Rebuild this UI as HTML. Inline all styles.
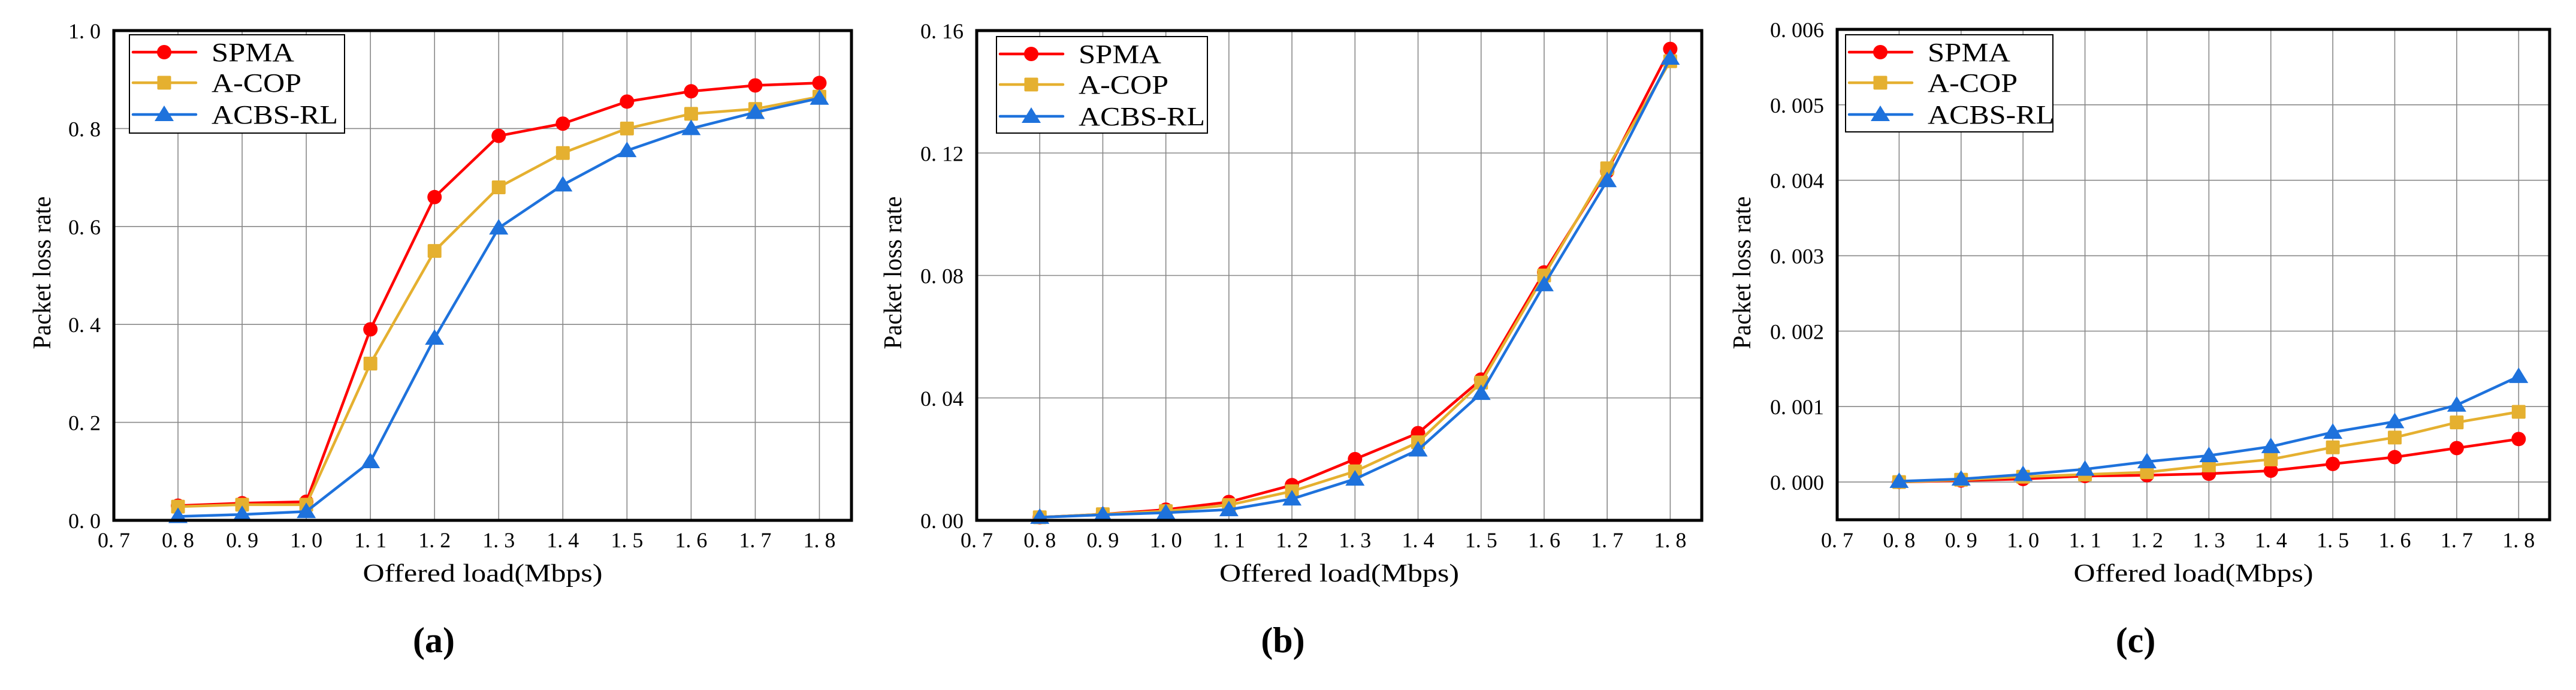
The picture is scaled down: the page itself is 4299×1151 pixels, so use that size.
<!DOCTYPE html>
<html><head><meta charset="utf-8"><style>
html,body{margin:0;padding:0;background:#fff;}
svg{display:block;font-family:"Liberation Serif","Noto Serif CJK SC",serif;}
</style></head><body>
<svg id="fig" width="4299" height="1151" viewBox="0 0 4299 1151" xmlns="http://www.w3.org/2000/svg"></svg>
<script>
const xValues = [0.8,0.9,1.0,1.1,1.2,1.3,1.4,1.5,1.6,1.7,1.8];
const xTickValues = [0.7,0.8,0.9,1.0,1.1,1.2,1.3,1.4,1.5,1.6,1.7,1.8];
const xTickLabels = ["0. 7","0. 8","0. 9","1. 0","1. 1","1. 2","1. 3","1. 4","1. 5","1. 6","1. 7","1. 8"];
const seriesNames = ["SPMA","A-COP","ACBS-RL"];
const aSPMA = [0.03,0.035,0.038,0.39,0.66,0.785,0.81,0.855,0.876,0.888,0.893];
const aACOP = [0.028,0.032,0.032,0.32,0.55,0.68,0.75,0.80,0.83,0.84,0.865];
const aACBS = [0.008,0.012,0.018,0.12,0.372,0.597,0.685,0.755,0.80,0.833,0.862];
const bSPMA = [0.001,0.002,0.0035,0.006,0.0115,0.02,0.0285,0.046,0.081,0.114,0.154];
const bACOP = [0.001,0.002,0.003,0.005,0.0095,0.016,0.0255,0.045,0.080,0.115,0.150];
const bACBS = [0.001,0.0018,0.0025,0.0035,0.007,0.0135,0.023,0.0415,0.077,0.111,0.151];
const cSPMA = [0,0.00002,0.00004,0.00008,0.00009,0.00011,0.00015,0.00024,0.00033,0.00045,0.00057];
const cACOP = [0,0.00003,0.00007,0.0001,0.00013,0.00022,0.0003,0.00046,0.00059,0.00079,0.00093];
const cACBS = [0.00001,0.00004,0.0001,0.00017,0.00027,0.00035,0.00047,0.00066,0.0008,0.00102,0.0014];
const aYTicks = [0,0.2,0.4,0.6,0.8,1.0];
const aYLabels = ["0. 0","0. 2","0. 4","0. 6","0. 8","1. 0"];
const bYTicks = [0,0.04,0.08,0.12,0.16];
const bYLabels = ["0. 00","0. 04","0. 08","0. 12","0. 16"];
const cYTicks = [0,0.001,0.002,0.003,0.004,0.005,0.006];
const cYLabels = ["0. 000","0. 001","0. 002","0. 003","0. 004","0. 005","0. 006"];

const NS="http://www.w3.org/2000/svg";
const svg=document.getElementById('fig');
const colors=["#ff0000","#e5b030","#1e72dc"];
function mk(tag,attrs,parent){const e=document.createElementNS(NS,tag);for(const k in attrs)e.setAttribute(k,attrs[k]);(parent||svg).appendChild(e);return e;}

function marker(g,kind,cx,cy,col){
  let m;
  if(kind===0){m=mk('circle',{cx:cx,cy:cy,r:12,fill:col},g);}
  else if(kind===1){m=mk('rect',{x:cx-11.5,y:cy-11.5,width:23,height:23,rx:2,fill:col},g);}
  else {m=mk('polygon',{points:`${cx},${cy-15} ${cx+16},${cy+11} ${cx-16},${cy+11}`,fill:col},g);}
  return m;
}

const panels=[
 {id:'a',L:190,R:1421,T:51,B:868,yMin:0,yMax:1.0,yt:aYTicks,yl:aYLabels,s:[aSPMA,aACOP,aACBS],lg:[216,58,575,222],ylx:70,sub:'(a)',subx:724},
 {id:'b',L:1630,R:2840,T:51,B:868,yMin:0,yMax:0.16,yt:bYTicks,yl:bYLabels,s:[bSPMA,bACOP,bACBS],lg:[1663,61,2015,222],ylx:1490,sub:'(b)',subx:2141},
 {id:'c',L:3066,R:4255,T:49,B:867,yMin:-0.0005,yMax:0.006,yt:cYTicks,yl:cYLabels,s:[cSPMA,cACOP,cACBS],lg:[3080,58,3426,220],ylx:2907,sub:'(c)',subx:3564}
];

panels.forEach(p=>{
  const g=mk('g',{});
  
  
  const unit=(p.R-p.L)/1.15;
  const xs=v=>p.L+(v-0.7)*unit;
  const ys=v=>p.B-(v-p.yMin)/(p.yMax-p.yMin)*(p.B-p.T);
  // grid
  xTickValues.forEach((v,i)=>{
    if(i>0){const l=mk('line',{x1:xs(v),x2:xs(v),y1:p.T,y2:p.B,stroke:'#888','stroke-width':1.6},g);
      
      }
    const t=mk('text',{x:xs(v),y:913,'font-size':36,'text-anchor':'middle'},g);
    t.textContent=xTickLabels[i];
    
    
  });
  p.yt.forEach((v,i)=>{
    const y=ys(v);
    if(y>p.T+2&&y<p.B-2){const l=mk('line',{x1:p.L,x2:p.R,y1:y,y2:y,stroke:'#888','stroke-width':1.6},g);
      
      }
    const t=mk('text',{x:p.L-22,y:y+13,'font-size':36,'text-anchor':'end'},g);
    t.textContent=p.yl[i];
    
    
  });
  // series
  p.s.forEach((arr,si)=>{
    const sg=mk('g',{},g);
    
    
    const pts=arr.map((v,i)=>xs(xValues[i])+','+ys(v)).join(' ');
    mk('polyline',{points:pts,fill:'none',stroke:colors[si],'stroke-width':4.5,'stroke-linejoin':'round'},sg);
    arr.forEach((v,i)=>{const m=marker(sg,si,xs(xValues[i]),ys(v),colors[si]);
      
      });
  });
  // frame
  const fr=mk('rect',{x:p.L,y:p.T,width:p.R-p.L,height:p.B-p.T,fill:'none',stroke:'#000','stroke-width':5},g);
  
  
  // legend
  const [lx,ly,lr,lb]=p.lg;
  const lg=mk('g',{},g);
  
  
  mk('rect',{x:lx,y:ly,width:lr-lx,height:lb-ly,fill:'#fff',stroke:'#000','stroke-width':2},lg);
  const rowsY=[ly+29,ly+80,ly+133];
  seriesNames.forEach((n,si)=>{
    const e=mk('g',{},lg);
    
    
    mk('line',{x1:lx+6,x2:lx+111,y1:rowsY[si],y2:rowsY[si],stroke:colors[si],'stroke-width':4.5,'stroke-linecap':'round'},e);
    marker(e,si,lx+58,rowsY[si],colors[si]);
    const t=mk('text',{x:lx+137,y:rowsY[si]+15,'font-size':44},e);
    t.textContent=n;
    const w={"SPMA":138,"A-COP":150,"ACBS-RL":211}[n];
    t.setAttribute('textLength',w);
    t.setAttribute('lengthAdjust','spacingAndGlyphs');
  });
  // axis titles
  const xt=mk('text',{x:(p.L+p.R)/2,y:970,'font-size':42,'text-anchor':'middle',textLength:400,lengthAdjust:'spacingAndGlyphs'},g);
  xt.textContent='Offered load(Mbps)';
  
  
  const yt=mk('text',{x:0,y:0,'font-size':42,'text-anchor':'middle',transform:`translate(${p.ylx+14},455) rotate(-90)`,textLength:255,lengthAdjust:'spacingAndGlyphs'},g);
  yt.textContent='Packet loss rate';
  
  
  const st=mk('text',{x:p.subx,y:1088,'font-size':60,'font-weight':'bold','text-anchor':'middle'},g);
  st.textContent=p.sub;
  
  
});
</script>
</body></html>
